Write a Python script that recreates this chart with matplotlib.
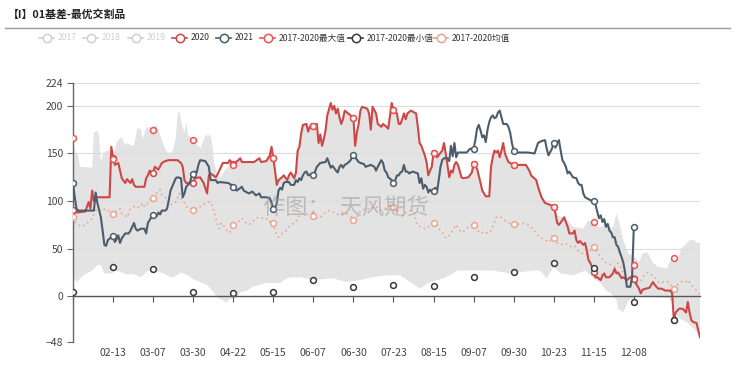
import matplotlib
matplotlib.use("Agg")
import matplotlib.pyplot as plt
import matplotlib.transforms as mtransforms
from matplotlib.lines import Line2D
import pandas as pd

plt.rcParams['font.family'] = ['Noto Sans CJK SC', 'DejaVu Sans']

# ---------------- data ----------------
title = "【I】01基差-最优交割品"
categories = [d.strftime('%m-%d') for d in pd.date_range('2020-01-21', periods=361)]
label_step = 23
last_label_index = 322

x2020 = [0, 2, 7, 9, 10, 11, 12, 13, 21, 22, 23, 24, 26, 27, 28, 30, 31, 33, 34, 35, 36, 41, 42, 43, 44, 45, 46, 47, 49, 51, 53, 55, 60, 62, 63, 64, 65, 69, 70, 73, 75, 77, 78, 79, 82, 83, 85, 86, 89, 90, 92, 95, 96, 97, 104, 107, 108, 111, 113, 114, 115, 116, 117, 118, 120, 121, 123, 124, 125, 127, 128, 129, 130, 131, 132, 134, 135, 136, 137, 138, 140, 141, 142, 143, 144, 145, 146, 148, 149, 150, 151, 152, 153, 154, 155, 156, 158, 160, 161, 162, 163, 164, 165, 166, 169, 170, 171, 172, 174, 175, 177, 178, 180, 181, 183, 184, 186, 187, 188, 189, 190, 191, 192, 194, 197, 198, 199, 200, 201, 202, 203, 204, 205, 206, 207, 209, 212, 213, 214, 215, 216, 217, 218, 219, 220, 221, 222, 223, 224, 227, 229, 230, 232, 234, 235, 237, 239, 240, 241, 242, 243, 244, 245, 246, 247, 248, 250, 253, 260, 262, 263, 266, 267, 269, 271, 274, 276, 277, 278, 279, 281, 282, 284, 285, 287, 288, 289, 290, 291, 293, 294, 295, 296, 297, 298, 299, 300, 301, 303, 304, 305, 306, 308, 310, 311, 312, 313, 315, 316, 318, 320, 322, 323, 325, 326, 327, 329, 331, 333, 334, 336, 338, 340, 343, 344, 345, 346, 348, 350, 351, 352, 353, 354, 355, 356, 358, 359, 360]
y2020 = [91, 88, 89, 99, 92, 111, 100, 104, 104, 157, 145, 138, 140, 132, 124, 119, 123, 119, 123, 117, 115, 115, 124, 127, 132, 129, 130, 136, 133, 140, 142, 143, 143, 140, 136, 122, 119, 119, 124, 125, 119, 108, 127, 129, 125, 128, 136, 140, 140, 143, 139, 143, 145, 141, 141, 145, 141, 142, 148, 157, 145, 132, 117, 122, 125, 127, 122, 127, 130, 124, 130, 153, 157, 171, 180, 181, 173, 178, 181, 179, 181, 161, 170, 158, 165, 174, 190, 203, 196, 200, 192, 197, 188, 181, 186, 195, 192, 189, 187, 158, 172, 181, 195, 199, 197, 192, 175, 199, 192, 181, 178, 181, 178, 176, 203, 196, 192, 181, 181, 186, 192, 186, 192, 195, 192, 178, 161, 158, 153, 148, 141, 127, 132, 136, 151, 146, 153, 161, 150, 138, 125, 132, 130, 138, 141, 138, 132, 125, 124, 125, 130, 139, 134, 119, 111, 105, 105, 136, 146, 153, 151, 153, 146, 153, 161, 150, 141, 138, 138, 132, 127, 122, 115, 104, 98, 96, 94, 87, 77, 75, 80, 83, 73, 66, 66, 69, 59, 56, 58, 54, 56, 48, 38, 35, 31, 25, 20, 20, 17, 22, 24, 20, 20, 24, 29, 24, 25, 19, 20, 17, 20, 18, 14, 8, 3, 7, 8, 9, 15, 12, 8, 8, 6, 6, 3, -25, -17, -13, -13, -15, -17, -6, -17, -25, -27, -28, -36, -43]

x2021 = [0, 1, 2, 3, 12, 13, 14, 16, 17, 18, 19, 20, 22, 23, 24, 25, 26, 27, 28, 30, 32, 33, 34, 35, 36, 37, 39, 41, 42, 43, 45, 46, 48, 49, 50, 51, 53, 54, 55, 56, 59, 60, 62, 63, 64, 65, 67, 68, 69, 70, 71, 72, 73, 76, 78, 79, 82, 83, 84, 89, 91, 92, 94, 97, 98, 101, 103, 105, 107, 108, 111, 113, 114, 115, 116, 117, 118, 119, 120, 121, 122, 124, 125, 127, 128, 129, 130, 131, 132, 133, 134, 135, 136, 138, 139, 140, 141, 142, 145, 146, 147, 148, 149, 151, 152, 153, 154, 155, 156, 157, 159, 160, 161, 162, 164, 165, 167, 168, 171, 173, 174, 175, 177, 178, 179, 180, 181, 183, 184, 185, 186, 187, 188, 189, 190, 191, 192, 193, 195, 198, 199, 200, 201, 202, 203, 204, 205, 206, 207, 208, 209, 210, 211, 212, 213, 215, 216, 217, 218, 219, 220, 221, 224, 226, 227, 228, 230, 231, 232, 233, 234, 235, 236, 237, 238, 239, 240, 241, 242, 243, 244, 245, 246, 247, 249, 250, 251, 252, 253, 254, 261, 265, 267, 269, 271, 272, 273, 275, 276, 277, 278, 279, 280, 281, 282, 283, 284, 285, 286, 287, 289, 290, 291, 292, 293, 294, 295, 297, 299, 300, 301, 302, 303, 304, 305, 306, 307, 308, 309, 310, 311, 312, 313, 314, 315, 316, 317, 318, 320, 321, 322]
y2021 = [119, 104, 92, 90, 90, 109, 98, 83, 69, 54, 53, 59, 62, 63, 57, 60, 64, 56, 61, 66, 66, 69, 73, 77, 71, 69, 71, 71, 66, 77, 83, 85, 84, 88, 86, 90, 90, 92, 101, 111, 124, 125, 124, 104, 108, 115, 119, 125, 128, 131, 130, 138, 143, 142, 136, 122, 122, 119, 120, 119, 117, 115, 111, 115, 111, 108, 110, 106, 108, 104, 104, 103, 98, 92, 92, 98, 111, 114, 112, 119, 120, 120, 117, 117, 122, 120, 124, 122, 127, 130, 131, 127, 128, 127, 131, 136, 138, 140, 141, 145, 140, 135, 137, 132, 130, 136, 138, 135, 138, 139, 142, 145, 148, 146, 141, 140, 139, 136, 138, 136, 132, 136, 143, 140, 132, 130, 125, 122, 119, 122, 127, 127, 130, 131, 138, 131, 131, 129, 131, 129, 119, 124, 113, 117, 115, 109, 112, 110, 111, 114, 110, 122, 136, 143, 145, 145, 142, 158, 147, 161, 146, 151, 151, 151, 153, 155, 155, 164, 176, 180, 174, 167, 169, 162, 175, 183, 188, 190, 187, 188, 193, 195, 188, 181, 181, 178, 172, 161, 153, 151, 151, 150, 161, 163, 164, 155, 148, 155, 161, 156, 161, 164, 153, 143, 140, 136, 129, 131, 128, 125, 124, 119, 117, 117, 108, 104, 103, 101, 100, 96, 89, 82, 85, 78, 81, 73, 76, 69, 67, 62, 62, 54, 52, 46, 41, 35, 25, 10, 10, 20, 73]

x_mean = [0, 1, 3, 5, 9, 11, 13, 14, 16, 19, 21, 22, 23, 25, 27, 28, 30, 31, 32, 33, 36, 38, 40, 41, 43, 45, 46, 48, 49, 50, 51, 53, 55, 56, 59, 60, 61, 62, 64, 66, 69, 70, 72, 74, 76, 79, 80, 82, 83, 84, 85, 87, 89, 90, 92, 94, 97, 99, 101, 103, 105, 107, 109, 111, 112, 114, 115, 116, 117, 118, 120, 122, 124, 126, 128, 129, 131, 133, 135, 138, 140, 142, 144, 146, 147, 149, 151, 152, 154, 156, 158, 160, 161, 162, 164, 165, 168, 169, 171, 172, 174, 176, 177, 179, 181, 183, 184, 186, 187, 188, 190, 191, 194, 196, 197, 198, 200, 202, 204, 206, 207, 209, 211, 213, 214, 216, 218, 220, 221, 223, 225, 227, 230, 231, 234, 236, 238, 240, 242, 243, 245, 247, 249, 251, 253, 254, 257, 260, 263, 266, 268, 271, 273, 276, 278, 280, 282, 284, 286, 288, 290, 291, 293, 295, 297, 299, 300, 303, 305, 307, 309, 311, 313, 315, 316, 318, 320, 322, 324, 326, 328, 330, 331, 334, 336, 338, 340, 342, 343, 345, 348, 350, 352, 353, 355, 357, 359, 360]
y_mean = [83, 78, 75, 73, 78, 82, 90, 92, 90, 92, 89, 87, 86, 90, 92, 87, 85, 83, 87, 92, 95, 93, 98, 94, 98, 103, 103, 108, 111, 112, 106, 104, 99, 96, 99, 103, 108, 103, 98, 92, 91, 92, 93, 95, 98, 99, 95, 82, 75, 71, 77, 73, 67, 67, 75, 76, 82, 78, 75, 78, 82, 83, 82, 82, 78, 79, 77, 69, 64, 62, 66, 68, 73, 76, 78, 83, 87, 87, 86, 84, 82, 83, 87, 88, 90, 89, 87, 86, 88, 87, 86, 83, 80, 83, 85, 90, 92, 91, 94, 93, 94, 92, 90, 92, 95, 93, 94, 90, 85, 83, 85, 88, 90, 87, 78, 74, 73, 71, 73, 75, 77, 74, 69, 65, 61, 64, 69, 75, 72, 67, 69, 73, 75, 72, 66, 68, 66, 69, 78, 83, 84, 81, 78, 76, 76, 75, 76, 77, 73, 66, 62, 59, 57, 61, 56, 54, 55, 55, 52, 53, 48, 46, 45, 44, 48, 52, 50, 41, 36, 35, 33, 31, 35, 29, 24, 20, 20, 19, 14, 16, 22, 25, 24, 20, 15, 14, 16, 15, 12, 8, 14, 16, 15, 17, 12, 8, 4, 1]

x_extreme = [0, 23, 46, 69, 92, 115, 138, 161, 184, 207, 230, 253, 276, 299, 322, 345]
y_max = [166, 144, 175, 164, 138, 145, 179, 187, 196, 151, 139, 138, 94, 78, 33, 40]
y_min = [4, 31, 29, 5, 3, 5, 17, 10, 12, 11, 20, 25, 35, 30, -6, -25]

# grey range band (upper edge: left part, then 2020 where 2020 is the max, then right part)
x_band_top_left = [0, 2, 3, 4, 11, 12, 14, 15, 16, 17, 19, 24, 25, 28, 30, 31, 33, 35, 37, 39, 40, 42, 46, 48, 50, 52, 54, 57, 59, 60, 61, 63, 64, 65, 66, 68, 70, 72, 73, 75, 76, 79, 80, 81, 83, 85, 87, 89]
y_band_top_left = [157, 150, 148, 136, 135, 172, 174, 168, 141, 148, 153, 153, 162, 167, 158, 161, 159, 158, 177, 175, 165, 177, 178, 180, 170, 159, 151, 151, 166, 190, 195, 177, 172, 183, 170, 166, 160, 159, 155, 164, 169, 169, 160, 141, 127, 125, 132, 136]
x_band_top_right = [278, 281, 284, 287, 290, 293, 296, 299, 302, 304, 306, 308, 310, 312, 314, 316, 319, 322, 325, 327, 330, 333, 336, 341, 343, 345, 347, 349, 352, 354, 357, 358, 360]
y_band_top_right = [85, 83, 80, 73, 72, 71, 80, 76, 73, 73, 78, 73, 72, 87, 75, 59, 45, 42, 36, 45, 46, 35, 31, 29, 38, 41, 36, 50, 55, 59, 59, 56, 56]
x_band_bottom = [0, 2, 6, 11, 14, 16, 18, 22, 25, 31, 35, 39, 43, 47, 52, 56, 58, 62, 66, 69, 73, 77, 80, 83, 86, 88, 90, 94, 96, 100, 103, 111, 119, 121, 125, 131, 138, 149, 157, 165, 172, 180, 188, 199, 205, 213, 221, 228, 235, 241, 251, 264, 268, 272, 276, 280, 287, 294, 300, 303, 306, 309, 312, 313, 316, 319, 326, 333, 342, 344, 347, 353, 359, 360]
y_band_bottom = [20, 15, 22, 27, 33, 33, 24, 24, 27, 23, 23, 20, 27, 27, 24, 20, 20, 25, 22, 18, 15, 12, 6, -2, -4, -7, -3, -1, 4, 6, 10, 14, 14, 17, 20, 20, 17, 19, 15, 17, 20, 22, 22, 8, 15, 19, 27, 27, 27, 27, 24, 27, 27, 19, 31, 24, 22, 27, 17, 14, 6, 3, -4, -13, -17, -4, 1, -1, -2, -7, -22, -28, -39, -40]

legend_labels = ['2017', '2018', '2019', '2020', '2021', '2017-2020最大值', '2017-2020最小值', '2017-2020均值']

# ---------------- styles ----------------
C_RED = '#cd4747'
C_2021 = '#4b5d6c'
C_MAX = '#f25151'
C_MIN = '#3a3a3a'
C_MEAN = '#eaa58e'
C_BAND = '#e3e3e3'
C_OFF = '#d0d0d0'

fig = plt.figure(figsize=(7.34, 3.74), dpi=100)
W, H = 734, 374
ax = fig.add_axes([73 / W, 1 - 342 / H, 627 / W, 259 / H])

ax.set_xlim(0, len(categories) - 1)
ax.set_ylim(-48, 224)

# band polygon
bx_top = x_band_top_left + [x for x in x2020 if 90 <= x <= 276] + x_band_top_right
by_top = y_band_top_left + [y for x, y in zip(x2020, y2020) if 90 <= x <= 276] + y_band_top_right
poly_x = bx_top + x_band_bottom[::-1]
poly_y = by_top + y_band_bottom[::-1]
ax.fill(poly_x, poly_y, color=C_BAND, lw=0, zorder=1)

# grid
for v in [-48, 50, 100, 150, 200, 224]:
    ax.axhline(v, color='#dcdcdc', lw=0.8, zorder=1.5)


def marks(xs):
    return [i for i, x in enumerate(xs) if x % label_step == 0]


mk = dict(marker='o', markersize=4.2, markerfacecolor='white', markeredgewidth=1.1)

ax.plot(x_mean, y_mean, color=C_MEAN, lw=1.2, ls=(0, (1, 2)), zorder=3,
        markevery=marks(x_mean), markeredgecolor=C_MEAN, **mk)
ax.plot(x2020, y2020, color=C_RED, lw=1.5, zorder=4,
        markevery=marks(x2020), markeredgecolor=C_RED, **mk)
ax.plot(x2021, y2021, color=C_2021, lw=1.5, zorder=5,
        markevery=marks(x2021), markeredgecolor=C_2021, **mk)
ax.plot(x_extreme, y_max, ls='none', zorder=6, markeredgecolor=C_MAX, **mk)
ax.plot(x_extreme, y_min, ls='none', zorder=6, markeredgecolor=C_MIN, **mk)

# axes styling
for s in ['top', 'right']:
    ax.spines[s].set_visible(False)
ax.spines['left'].set_color('#666666')
ax.spines['left'].set_linewidth(1.0)
ax.spines['bottom'].set_position(('data', 0))
ax.spines['bottom'].set_color('#555555')
ax.spines['bottom'].set_linewidth(1.0)
ax.spines['bottom'].set_zorder(7)

ax.set_yticks([-48, 0, 50, 100, 150, 200, 224])
ax.tick_params(axis='y', length=4, width=0.8, color='#666666', pad=3,
               labelsize=7.5, labelcolor='#444444')
xt = list(range(0, last_label_index + 1, label_step))
ax.set_xticks(xt)
ax.tick_params(axis='x', length=4, width=0.8, color='#555555', labelbottom=False)
trans = mtransforms.blended_transform_factory(ax.transData, ax.transAxes)
for t in xt[1:]:
    ax.text(t, -0.043, categories[t], transform=trans, ha='center', va='center',
            fontsize=7.5, color='#444444')

# watermark
ax.text(0.435, 0.515, '作图：  天风期货', transform=ax.transAxes, ha='center', va='center',
        fontsize=16, color='#9a9a9a', alpha=0.55, zorder=8)

# title and rule
fig.text(8 / W, 1 - 15 / H, title, fontsize=7.8, fontweight='bold', color='#222222',
         ha='left', va='center')
fig.add_artist(Line2D([5 / W, 730 / W], [1 - 28 / H, 1 - 28 / H], color='#9a9a9a', lw=1.0))

# legend (manual)
leg_icon_x = [39, 83, 128, 172, 216, 260, 348, 433]
leg_colors = [C_OFF, C_OFF, C_OFF, C_RED, C_2021, C_MAX, C_MIN, C_MEAN]
leg_text_col = [C_OFF, C_OFF, C_OFF, '#333333', '#333333', '#333333', '#333333', '#333333']
ly = 1 - 38 / H
for lab, x0, c, tc in zip(legend_labels, leg_icon_x, leg_colors, leg_text_col):
    fig.add_artist(Line2D([x0 / W, (x0 + 15) / W], [ly, ly], color=c, lw=1.2))
    fig.add_artist(Line2D([(x0 + 7.5) / W], [ly], marker='o', markersize=6.0,
                          markerfacecolor='white', markeredgecolor=c, markeredgewidth=1.1))
    fig.text((x0 + 19) / W, ly, lab, fontsize=6.2, color=tc, ha='left', va='center')

fig.savefig('out.png', dpi=100)
